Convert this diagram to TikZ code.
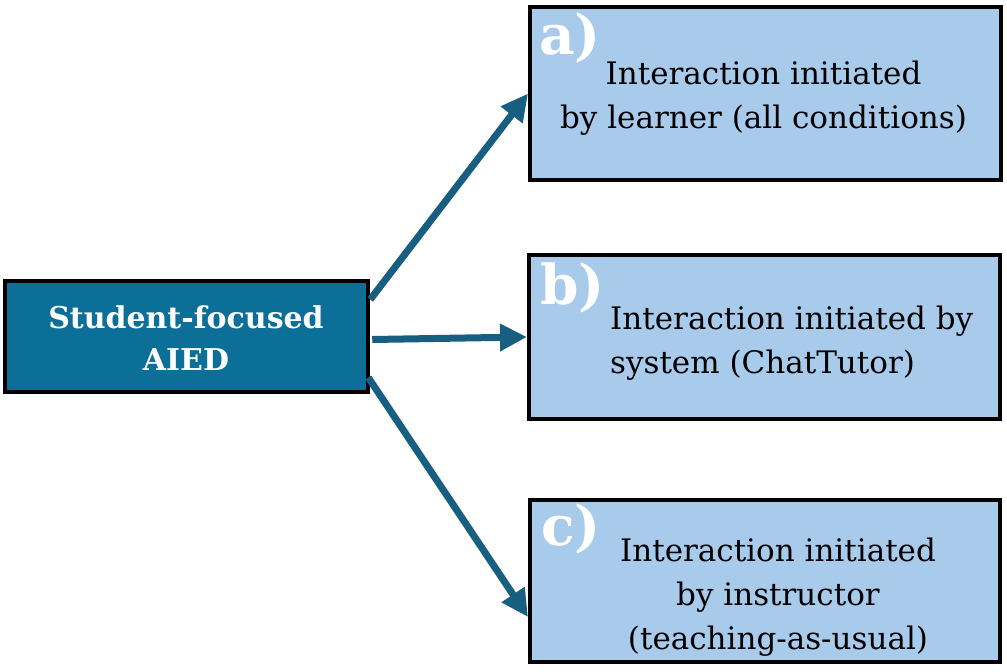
\documentclass[tikz,border=0pt]{standalone}
\usepackage{fontspec}
\setmainfont{DejaVu Serif}
\usepackage{tikz}
\usetikzlibrary{calc, arrows.meta, positioning}
\definecolor{FocusBlue}{RGB}{11,111,152}
\definecolor{OptionBlue}{RGB}{168,203,236}
\definecolor{ArrowBlue}{RGB}{24,94,128}
\tikzstyle{arrow} = [-{Triangle[length=27pt, width=26pt]}, draw=ArrowBlue, line width=7pt]
\tikzstyle{focus} = [fill=FocusBlue, draw=black, line width=4.5pt, minimum width=363pt, minimum height=111pt]
\tikzstyle{option} = [fill=OptionBlue, draw=black, line width=4pt]
\tikzstyle{txt} = [inner sep=0pt, font=\fontsize{31}{44}\selectfont, text=black]
\tikzstyle{tag} = [inner sep=0pt, anchor=north west, font=\fontsize{55}{55}\selectfont\bfseries, text=white]

\begin{document}
\begin{tikzpicture}[x=1pt, y=-1pt, rectangle, inner sep=0pt]
	\useasboundingbox (0,0) rectangle (1007,672);
	% LEFT
	\node (F) [focus] at (186.5,336.5) {};
	\node (Ftxt) [inner sep=0pt, align=center, text=white, font=\fontsize{30}{42}\selectfont\bfseries] at (186,338) {Student-focused\\AIED};

	% RIGHT
	\node (A) [option, minimum width=471pt, minimum height=173pt] at (765.5,93.5) {};
	\node (B) [option, minimum width=471pt, minimum height=164pt] at (764.5,337) {};
	\node (C) [option, minimum width=470pt, minimum height=162pt] at (765,581) {};

	\node (Atag) [tag] at ($(A.north west)+(11,8)$) {a)};
	\node (Btag) [tag] at ($(B.north west)+(13,10)$) {b)};
	\node (Ctag) [tag] at ($(C.north west)+(13,6)$) {c)};

	\node (Atxt) [txt, align=center] at (763.5,98) {Interaction initiated\\by learner (all conditions)};
	\node (Btxt) [txt, align=left, anchor=west] at (610,343) {Interaction initiated by\\system (ChatTutor)};
	\node (Ctxt) [txt, align=center] at (778,597) {Interaction initiated\\by instructor\\(teaching-as-usual)};

	\draw [arrow] ($(F.east)+(0,-37)$) -- (A.west);
	\draw [arrow] ($(F.east)+(2,3)$) -- (B.west);
	\draw [arrow] ($(F.east)+(-2,41)$) -- ($(C.west)+(0,36)$);
\end{tikzpicture}
\end{document}
